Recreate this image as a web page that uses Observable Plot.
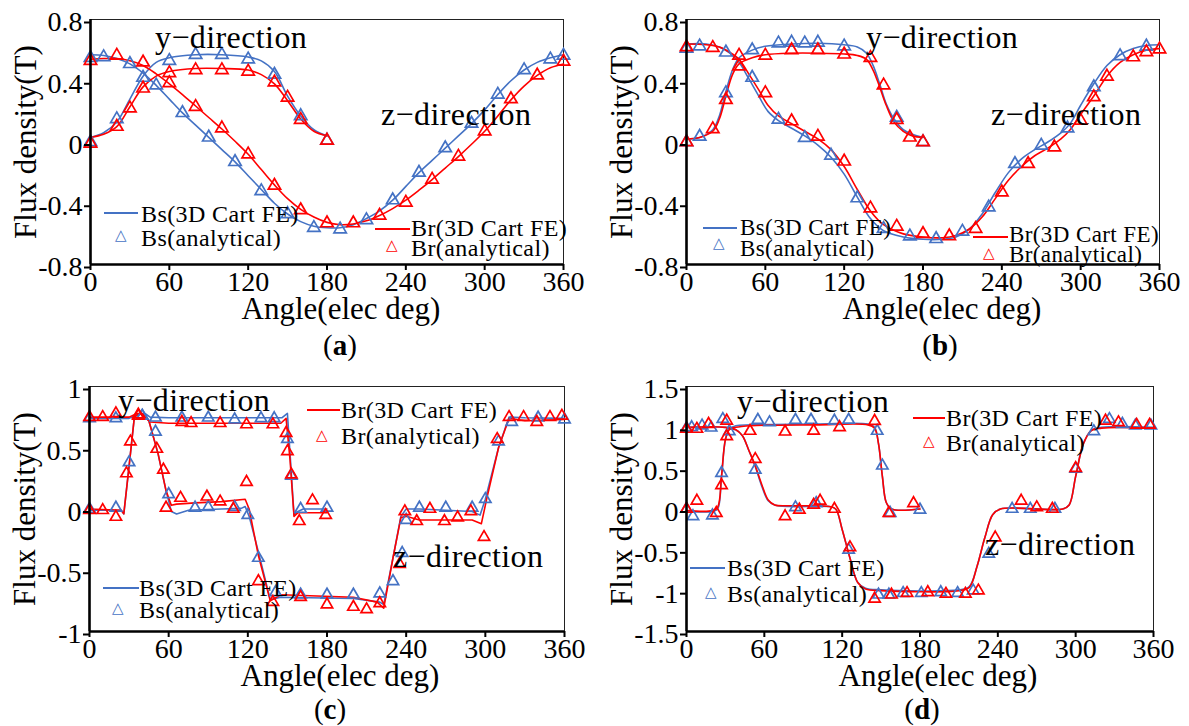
<!DOCTYPE html>
<html>
<head>
<meta charset="utf-8">
<script src="https://cdn.jsdelivr.net/npm/d3@7"></script>
<script src="https://cdn.jsdelivr.net/npm/@observablehq/plot@0.6"></script>
<style>
  html, body { margin: 0; padding: 0; background: #fff; }
  #page { position: relative; width: 1189px; height: 726px; overflow: hidden; font-family: "Liberation Serif", serif; }
  .panel { position: absolute; }
  .txt { position: absolute; white-space: nowrap; line-height: 1; color: #000; font-family: "Liberation Serif", serif; }
  .sw { position: absolute; height: 2px; }
  .tri { position: absolute; font-family: "DejaVu Sans", sans-serif; line-height: 1; }
</style>
</head>
<body>
<div id="page"></div>
<script>
// ---------- shared axis ticks ----------
const xTicks = [0, 60, 120, 180, 240, 300, 360];
const yTicksAB = [-0.8, -0.4, 0, 0.4, 0.8];
const yTicksC = [-1, -0.5, 0, 0.5, 1];
const yTicksD = [-1.5, -1, -0.5, 0, 0.5, 1, 1.5];

// ---------- panel (a) ----------  [angle (elec deg), flux density (T)]
const a_BsFE_y = [[0,0.03],[10,0.06],[20,0.13],[30,0.28],[40,0.43],[50,0.52],[60,0.55],[80,0.57],[100,0.57],[120,0.555],[130,0.53],[140,0.46],[150,0.3],[160,0.17],[170,0.08],[180,0.04]];
const a_BrFE_y = [[0,0.03],[10,0.05],[20,0.1],[30,0.23],[40,0.36],[50,0.43],[60,0.46],[80,0.48],[100,0.48],[120,0.47],[130,0.44],[140,0.38],[150,0.27],[160,0.15],[170,0.07],[180,0.04]];
const a_BsFE_z = [[0,0.57],[10,0.565],[20,0.545],[30,0.51],[40,0.45],[50,0.37],[60,0.28],[70,0.19],[80,0.11],[90,0.03],[100,-0.05],[110,-0.13],[120,-0.22],[130,-0.31],[140,-0.4],[150,-0.47],[160,-0.52],[170,-0.55],[180,-0.56],[190,-0.56],[200,-0.54],[210,-0.5],[220,-0.45],[230,-0.38],[240,-0.29],[250,-0.2],[260,-0.12],[270,-0.04],[280,0.04],[290,0.12],[300,0.21],[310,0.31],[320,0.4],[330,0.47],[340,0.52],[350,0.55],[360,0.57]];
const a_BrFE_z = [[0,0.54],[10,0.545],[20,0.545],[30,0.53],[40,0.5],[50,0.445],[60,0.38],[70,0.31],[80,0.235],[90,0.16],[100,0.085],[110,0.005],[120,-0.08],[130,-0.18],[140,-0.28],[150,-0.37],[160,-0.44],[170,-0.49],[180,-0.525],[190,-0.54],[200,-0.535],[210,-0.515],[220,-0.48],[230,-0.435],[240,-0.38],[250,-0.315],[260,-0.245],[270,-0.17],[280,-0.095],[290,-0.015],[300,0.07],[310,0.17],[320,0.275],[330,0.365],[340,0.435],[350,0.485],[360,0.51]];
const a_BsAn_y = [[0,0],[20,0.15],[40,0.42],[60,0.53],[80,0.57],[100,0.57],[120,0.54],[140,0.44],[160,0.17],[180,0.01]];
const a_BrAn_y = [[0,-0.01],[20,0.1],[30,0.22],[40,0.35],[60,0.45],[80,0.47],[100,0.47],[120,0.46],[140,0.39],[150,0.29],[160,0.145],[180,0.01]];
const a_BsAn_z = [[0,0.55],[10,0.555],[30,0.51],[50,0.37],[70,0.19],[90,0.03],[110,-0.13],[130,-0.32],[150,-0.47],[170,-0.56],[190,-0.57],[210,-0.51],[230,-0.38],[250,-0.2],[270,-0.04],[290,0.12],[310,0.31],[330,0.47],[350,0.54],[360,0.565]];
const a_BrAn_z = [[0,0.53],[20,0.565],[40,0.52],[60,0.385],[80,0.23],[100,0.09],[120,-0.08],[140,-0.285],[160,-0.445],[180,-0.53],[200,-0.53],[220,-0.48],[240,-0.395],[260,-0.245],[280,-0.095],[300,0.07],[320,0.28],[340,0.435],[360,0.525]];

// ---------- panel (b) ----------
const b_BsFE_y = [[0,0.02],[10,0.03],[20,0.08],[25,0.17],[30,0.33],[35,0.47],[40,0.55],[50,0.6],[60,0.625],[80,0.64],[100,0.645],[120,0.635],[130,0.62],[137,0.58],[142,0.5],[147,0.38],[152,0.25],[158,0.15],[165,0.08],[172,0.05],[180,0.03]];
const b_BrFE_y = [[0,0.02],[10,0.03],[20,0.07],[25,0.15],[30,0.3],[35,0.44],[40,0.51],[50,0.55],[60,0.57],[80,0.58],[100,0.58],[120,0.575],[130,0.565],[137,0.54],[142,0.47],[147,0.36],[152,0.24],[158,0.13],[165,0.07],[172,0.04],[180,0.03]];
const b_BsFE_z = [[0,0.64],[15,0.64],[25,0.62],[33,0.58],[40,0.52],[47,0.42],[55,0.3],[62,0.2],[70,0.14],[80,0.09],[90,0.04],[100,-0.02],[110,-0.1],[120,-0.21],[130,-0.36],[140,-0.5],[150,-0.58],[165,-0.62],[180,-0.635],[195,-0.635],[205,-0.62],[215,-0.57],[225,-0.47],[235,-0.33],[245,-0.2],[255,-0.11],[265,-0.05],[275,0.0],[285,0.06],[292,0.12],[300,0.24],[310,0.38],[320,0.5],[330,0.57],[340,0.61],[350,0.63],[360,0.635]];
const b_BrFE_z = [[0,0.64],[15,0.635],[25,0.62],[33,0.585],[40,0.54],[47,0.45],[55,0.34],[62,0.24],[70,0.17],[80,0.12],[90,0.07],[100,0.02],[110,-0.05],[120,-0.16],[130,-0.31],[140,-0.45],[150,-0.54],[165,-0.6],[180,-0.62],[195,-0.625],[205,-0.61],[215,-0.57],[225,-0.49],[235,-0.37],[245,-0.25],[255,-0.16],[265,-0.09],[275,-0.04],[285,0.02],[292,0.08],[300,0.18],[310,0.3],[320,0.43],[330,0.52],[340,0.57],[350,0.6],[360,0.61]];
const b_BsAn_y = [[0,0],[10,0.035],[30,0.32],[50,0.6],[70,0.645],[80,0.65],[90,0.645],[100,0.65],[120,0.625],[160,0.16],[180,0]];
const b_BrAn_y = [[0,0],[20,0.085],[30,0.275],[40,0.495],[60,0.565],[80,0.6],[100,0.6],[120,0.572],[140,0.55],[150,0.37],[160,0.145],[170,0.03],[180,0]];
const b_BsAn_z = [[0,0.61],[10,0.625],[30,0.585],[50,0.42],[70,0.147],[90,0.027],[110,-0.088],[130,-0.367],[150,-0.567],[170,-0.616],[190,-0.633],[210,-0.585],[230,-0.426],[250,-0.143],[270,-0.023],[290,0.09],[310,0.358],[330,0.561],[350,0.624]];
const b_BrAn_z = [[0,0.62],[20,0.615],[40,0.565],[60,0.32],[80,0.136],[100,0.036],[120,-0.127],[140,-0.433],[160,-0.552],[180,-0.6],[200,-0.615],[220,-0.567],[240,-0.328],[260,-0.143],[280,-0.034],[300,0.14],[310,0.293],[320,0.428],[340,0.554],[350,0.587],[360,0.605]];

// ---------- panel (c) ----------
const c_BsFE_y = [[0,-0.01],[24,-0.01],[26,-0.04],[30,0.35],[34,0.75],[38,0.78],[42,0.78],[46,0.75],[60,0.745],[100,0.745],[146,0.745],[150,0.78],[152,0.45],[155,-0.05],[158,-0.02],[162,0.0],[180,0.0]];
const c_BrFE_y = [[0,0.0],[24,-0.01],[26,-0.04],[30,0.35],[34,0.75],[38,0.78],[42,0.75],[46,0.71],[60,0.7],[100,0.7],[145,0.7],[149,0.74],[152,0.4],[155,-0.06],[158,-0.03],[180,-0.03]];
const c_BsFE_z = [[0,0.74],[30,0.74],[36,0.77],[40,0.775],[45,0.72],[52,0.45],[58,0.15],[62,-0.02],[66,-0.04],[75,-0.01],[100,0.0],[115,0.005],[118,0.02],[121,-0.06],[128,-0.35],[137,-0.74],[145,-0.72],[200,-0.73],[220,-0.76],[223,-0.78],[230,-0.4],[236,-0.06],[240,0.0],[250,0.0],[290,-0.02],[296,-0.05],[300,0.08],[310,0.5],[318,0.75],[330,0.745],[360,0.74]];
const c_BrFE_z = [[0,0.75],[30,0.75],[36,0.78],[40,0.78],[45,0.72],[52,0.45],[58,0.15],[62,0.03],[66,0.04],[80,0.05],[100,0.06],[118,0.08],[121,0.0],[128,-0.38],[137,-0.75],[145,-0.7],[200,-0.72],[218,-0.76],[223,-0.81],[230,-0.4],[236,-0.07],[240,-0.06],[250,-0.09],[290,-0.09],[297,-0.12],[301,0.08],[310,0.5],[318,0.74],[330,0.72],[360,0.73]];
const c_BsAn_y = [[0,0],[20,0.01],[30,0.38],[40,0.76],[50,0.745],[70,0.745],[90,0.745],[110,0.73],[130,0.74],[140,0.74],[150,0.57],[153,0.27],[160,0],[180,0.01]];
const c_BrAn_y = [[0,-0.01],[10,-0.01],[20,-0.065],[28,0.29],[31,0.55],[37,0.76],[70,0.71],[77,0.7],[99,0.7],[119,0.69],[139,0.69],[149,0.62],[150,0.47],[153,0.28],[159,-0.1],[169,0.07],[179,-0.05]];
const c_BsAn_z = [[0,0.74],[20,0.74],[40,0.76],[50,0.63],[60,0.12],[80,0.01],[90,0.015],[110,0.015],[120,-0.05],[128,-0.4],[141,-0.68],[160,-0.7],[180,-0.7],[200,-0.7],[220,-0.69],[230,-0.59],[237,-0.36],[240,-0.09],[250,0.01],[270,0.01],[290,0.01],[300,0.08],[310,0.55],[320,0.71],[340,0.745],[360,0.73]];
const c_BrAn_z = [[0,0.75],[10,0.75],[20,0.78],[37,0.77],[51,0.49],[56,0.32],[58,0.01],[69,0.09],[89,0.1],[99,0.06],[109,0],[119,0.22],[128,-0.59],[139,-0.76],[160,-0.72],[180,-0.78],[200,-0.8],[210,-0.82],[220,-0.77],[235,-0.45],[239,-0.02],[248,-0.1],[258,0],[269,-0.1],[279,-0.07],[289,-0.02],[299,-0.23],[309,0.57],[318,0.75],[329,0.75],[339,0.71],[349,0.75],[358,0.76]];

// ---------- panel (d) ----------
const d_BsFE_y = [[0,-0.03],[20,-0.03],[24,0.0],[27,0.4],[30,0.85],[33,0.98],[38,1.02],[50,1.03],[100,1.04],[140,1.04],[145,1.0],[148,0.8],[151,0.4],[154,0.08],[158,0.0],[180,0.0]];
const d_BrFE_y = [[0,-0.02],[20,-0.02],[24,0.02],[27,0.4],[30,0.85],[33,0.97],[38,1.0],[50,1.02],[100,1.03],[140,1.03],[145,0.99],[148,0.8],[151,0.4],[154,0.08],[158,0.0],[180,0.0]];
const d_BsFE_z = [[0,1.0],[30,1.0],[38,0.97],[43,0.9],[48,0.72],[53,0.52],[58,0.28],[63,0.1],[68,0.05],[80,0.03],[110,0.03],[115,0.0],[120,-0.25],[126,-0.6],[132,-0.9],[138,-0.97],[150,-0.99],[210,-0.99],[218,-0.95],[224,-0.7],[230,-0.35],[236,-0.07],[242,0.0],[290,0.0],[295,0.05],[300,0.4],[306,0.8],[312,0.96],[320,1.0],[360,1.0]];
const d_BrFE_z = [[0,1.0],[30,1.0],[38,0.97],[43,0.9],[48,0.72],[53,0.53],[58,0.3],[63,0.11],[68,0.05],[80,0.04],[110,0.03],[115,0.0],[120,-0.25],[126,-0.6],[132,-0.9],[138,-0.98],[150,-1.0],[210,-1.0],[218,-0.96],[224,-0.7],[230,-0.35],[236,-0.07],[242,0.0],[290,0.0],[295,0.05],[300,0.4],[306,0.8],[312,0.96],[320,0.99],[360,0.99]];
const d_BsAn_y = [[0,0],[5,-0.09],[20,-0.08],[27,0.44],[33,0.95],[55,1.09],[64,1.06],[84,1.09],[96,1.09],[114,1.08],[125,1.09],[147,0.955],[151,0.53],[157,-0.05],[180,-0.01]];
const d_BrAn_y = [[0,0],[8,0.1],[23,-0.05],[27,0.29],[31,0.89],[49,0.955],[76,0.946],[98,0.958],[118,1.0],[145,1.077],[156,-0.05],[175,0.07]];
const d_BsAn_z = [[0,0.99],[4,1.0],[12,1.02],[19,0.995],[28,1.1],[53,0.48],[84,0.02],[100,0.07],[125,-0.5],[148,-1.05],[156,-1.05],[167,-1.03],[181,-1.03],[196,-1.02],[209,-1.03],[221,-1.0],[233,-0.55],[251,0.0],[265,0.0],[284,0.0],[300,0.49],[314,0.95],[326,1.1],[336,1.04],[346,1.02],[358,1.02]];
const d_BrAn_z = [[0,0.98],[8,0.98],[17,1.04],[31,1.08],[53,0.61],[76,-0.09],[87,-0.01],[98,0.05],[103,0.1],[114,0.0],[126,-0.47],[145,-1.1],[158,-1.05],[170,-1.03],[186,-1.02],[200,-1.04],[215,-1.04],[225,-1.0],[238,-0.35],[258,0.1],[270,0.02],[282,0.0],[300,0.5],[323,1.08],[333,1.06],[347,1.03],[357,1.03]];

// ---------- styling ----------
const BLUE = "#4472C4";
const RED = "#FF0000";
const FONT = "'Liberation Serif', 'Times New Roman', serif";

const toRows = (pairs, series) => pairs.map(([deg, B]) => ({deg, B, series}));
const fmt = d => String(+d.toFixed(2));

const panels = [
  {letter: "a", left: 0, top: 0, width: 595, height: 363, mL: 90, mR: 32, mT: 19, mB: 99,
   yDomain: [-0.8, 0.8], yTicks: yTicksAB, curve: "catmull-rom", r: 4.6, titleDx: 14,
   BsFE: [a_BsFE_y, a_BsFE_z], BrFE: [a_BrFE_y, a_BrFE_z], BsAn: [a_BsAn_y, a_BsAn_z], BrAn: [a_BrAn_y, a_BrAn_z]},
  {letter: "b", left: 595, top: 0, width: 594, height: 363, mL: 91, mR: 30, mT: 19, mB: 99,
   yDomain: [-0.8, 0.8], yTicks: yTicksAB, curve: "catmull-rom", r: 4.6, titleDx: 19,
   BsFE: [b_BsFE_y, b_BsFE_z], BrFE: [b_BrFE_y, b_BrFE_z], BsAn: [b_BsAn_y, b_BsAn_z], BrAn: [b_BrAn_y, b_BrAn_z]},
  {letter: "c", left: 0, top: 363, width: 595, height: 363, mL: 89, mR: 31, mT: 23, mB: 95,
   yDomain: [-1, 1], yTicks: yTicksC, curve: "linear", r: 4.2, titleDx: 13,
   BsFE: [c_BsFE_y, c_BsFE_z], BrFE: [c_BrFE_y, c_BrFE_z], BsAn: [c_BsAn_y, c_BsAn_z], BrAn: [c_BrAn_y, c_BrAn_z]},
  {letter: "d", left: 595, top: 363, width: 594, height: 363, mL: 91, mR: 36, mT: 23, mB: 95,
   yDomain: [-1.5, 1.5], yTicks: yTicksD, curve: "catmull-rom", r: 4.2, titleDx: 18,
   BsFE: [d_BsFE_y, d_BsFE_z], BrFE: [d_BrFE_y, d_BrFE_z], BsAn: [d_BsAn_y, d_BsAn_z], BrAn: [d_BrAn_y, d_BrAn_z]}
];

const page = document.getElementById("page");

for (const p of panels) {
  const bsLines = p.BsFE.flatMap((arr, i) => toRows(arr, "Bs" + i));
  const brLines = p.BrFE.flatMap((arr, i) => toRows(arr, "Br" + i));
  const bsDots = p.BsAn.flatMap((arr, i) => toRows(arr, "Bs" + i));
  const brDots = p.BrAn.flatMap((arr, i) => toRows(arr, "Br" + i));

  const chart = Plot.plot({
    width: p.width,
    height: p.height,
    marginLeft: p.mL, marginRight: p.mR, marginTop: p.mT, marginBottom: p.mB,
    style: {fontFamily: FONT, fontSize: "28px", color: "#000", background: "transparent", overflow: "visible"},
    x: {domain: [0, 360], label: null},
    y: {domain: p.yDomain, label: null},
    marks: [
      Plot.frame({stroke: "#222", strokeWidth: 1}),
      Plot.line(bsLines, {x: "deg", y: "B", z: "series", stroke: BLUE, strokeWidth: 1.6, curve: p.curve}),
      Plot.line(brLines, {x: "deg", y: "B", z: "series", stroke: RED, strokeWidth: 1.6, curve: p.curve}),
      Plot.dot(bsDots, {x: "deg", y: "B", symbol: "triangle", r: p.r, stroke: BLUE, strokeWidth: 1.7, fill: "none"}),
      Plot.dot(brDots, {x: "deg", y: "B", symbol: "triangle", r: p.r, stroke: RED, strokeWidth: 1.7, fill: "none"}),
      Plot.ruleX([0], {stroke: "#000", strokeWidth: 2.6}),
      Plot.ruleY([p.yDomain[0]], {stroke: "#000", strokeWidth: 2.6}),
      Plot.axisX({ticks: xTicks, tickSize: 6, tickPadding: 1, fontSize: 28, strokeWidth: 2, tickFormat: d => String(d), label: null}),
      Plot.axisY({ticks: p.yTicks, tickSize: 6, tickPadding: 2, fontSize: 28, strokeWidth: 2, tickFormat: fmt, dy: 3, label: null}),
      Plot.text(["Angle(elec deg)"], {frameAnchor: "bottom", lineAnchor: "middle", textAnchor: "middle", dx: p.titleDx, dy: 45, fontSize: 31, fill: "#000"}),
      Plot.text(["Flux density(T)"], {frameAnchor: "left", lineAnchor: "middle", textAnchor: "middle", rotate: -90, dx: -64, fontSize: 31, fill: "#000"})
    ]
  });
  chart.classList.add("panel");
  chart.style.left = p.left + "px";
  chart.style.top = p.top + "px";
  page.appendChild(chart);
}

// ---------- text overlays: curve annotations, legends, panel letters ----------
// Boxes use line-height 1, so the baseline sits about 0.8375em below the box top.
function addText(html, x, baseline, size, center = false, spacing = 0) {
  const el = document.createElement("div");
  el.className = "txt";
  el.innerHTML = html;
  el.style.fontSize = size + "px";
  el.style.letterSpacing = spacing + "px";
  el.style.left = x + "px";
  el.style.top = (baseline - 0.8375 * size) + "px";
  if (center) el.style.transform = "translateX(-50%)";
  page.appendChild(el);
}
function addSwatch(x1, x2, y, color) {
  const el = document.createElement("div");
  el.className = "sw";
  el.style.left = x1 + "px";
  el.style.top = (y - 1) + "px";
  el.style.width = (x2 - x1) + "px";
  el.style.background = color;
  page.appendChild(el);
}
function addTri(cx, cy, color) {
  const el = document.createElement("div");
  el.className = "tri";
  el.textContent = "\u25B3";
  el.style.color = color;
  el.style.fontSize = "15px";
  el.style.left = (cx - 7) + "px";
  el.style.top = (cy - 9) + "px";
  page.appendChild(el);
}
function legend(name, color, lx1, lx2, ly, tx, base1, triX, triY, base2, size = 24) {
  addSwatch(lx1, lx2, ly, color);
  addText(name + "(3D Cart FE)", tx, base1, size, false, 0.4);
  addTri(triX, triY, color);
  addText(name + "(analytical)", tx, base2, size, false, 0.4);
}

const annotations = [
  ["y\u2212direction", 155, 48], ["z\u2212direction", 381, 125],
  ["y\u2212direction", 866, 48], ["z\u2212direction", 991, 125],
  ["y\u2212direction", 118, 411], ["z\u2212direction", 393, 567],
  ["y\u2212direction", 737, 412], ["z\u2212direction", 985, 555]
];
for (const [t, x, b] of annotations) addText(t, x, b, 32, false, 0.4);

legend("Bs", BLUE, 104, 138, 213, 141, 222, 122, 237, 246);
legend("Br", RED, 375, 410, 229, 411, 236, 393, 247, 256);
legend("Bs", BLUE, 703, 737, 228, 740, 235, 720, 245, 256, 23);
legend("Br", RED, 973, 1008, 237, 1009, 242, 990, 255, 262, 23);
legend("Br", RED, 307, 340, 410, 341, 418, 323, 437, 444);
legend("Bs", BLUE, 103, 139, 588, 139, 596, 119, 610, 618);
legend("Br", RED, 913, 945, 418, 946, 426, 930, 443, 451);
legend("Bs", BLUE, 690, 725, 568, 727, 576, 712, 594, 602);

const letters = [["a", 340, 355], ["b", 940, 355], ["c", 330, 719], ["d", 922, 719]];
for (const [l, x, b] of letters) addText("(<b>" + l + "</b>)", x, b, 29, true);
</script>
</body>
</html>
